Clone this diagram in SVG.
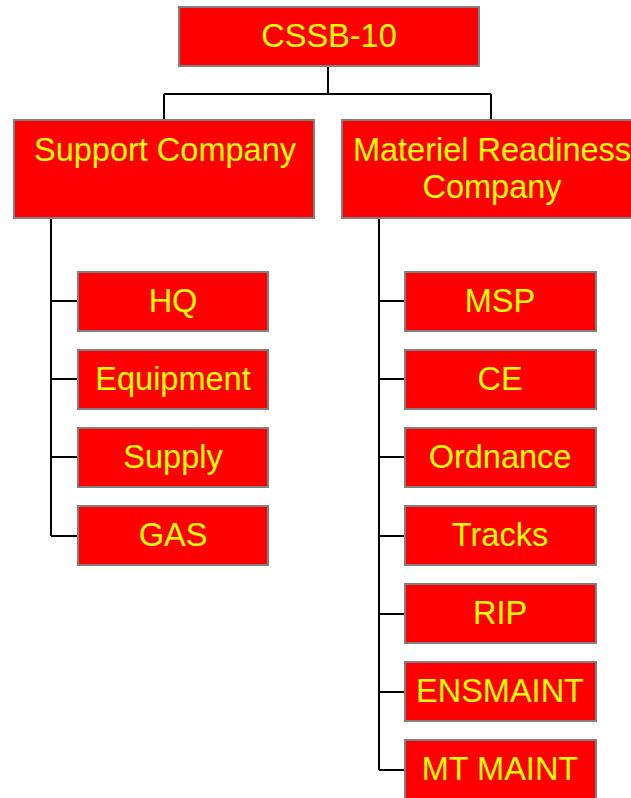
<svg xmlns="http://www.w3.org/2000/svg" width="631" height="798" viewBox="0 0 631 798">
<style>
.box{fill:#FF0000;stroke:#808080;stroke-width:2}
.t{font-family:"Liberation Sans",Arial,sans-serif;font-size:32.5px;fill:#FFFF00;text-anchor:middle}
.c{fill:none;stroke:#000;stroke-width:2}
</style>
<rect width="631" height="798" fill="#fff"/>
<g id="connectors">
<path class="c" d="M328,66V94M164,94H491M164,94V120M491,94V120"/>
<path class="c" d="M51,218V536M51,301H79M51,379H79M51,457H79M51,536H79"/>
<path class="c" d="M379,218V770M379,301H405M379,379H405M379,457H405M379,536H405M379,614H405M379,692H405M379,770H405"/>
</g>
<g id="cssb10"><rect class="box" x="179" y="7" width="300" height="59"/><text class="t" x="329" y="47">CSSB-10</text></g>
<g id="support"><rect class="box" x="14" y="120" width="300" height="98"/><text class="t" x="165" y="161">Support Company</text></g>
<g id="materiel"><rect class="box" x="342" y="120" width="300" height="98"/><text class="t" x="492" y="161">Materiel Readiness</text><text class="t" x="492" y="198">Company</text></g>
<g id="hq"><rect class="box" x="78" y="272" width="190" height="59"/><text class="t" x="173" y="312">HQ</text></g>
<g id="equipment"><rect class="box" x="78" y="350" width="190" height="59"/><text class="t" x="173" y="390">Equipment</text></g>
<g id="supply"><rect class="box" x="78" y="428" width="190" height="59"/><text class="t" x="173" y="468">Supply</text></g>
<g id="gas"><rect class="box" x="78" y="506" width="190" height="59"/><text class="t" x="173" y="546">GAS</text></g>
<g id="msp"><rect class="box" x="405" y="272" width="191" height="59"/><text class="t" x="500" y="312">MSP</text></g>
<g id="ce"><rect class="box" x="405" y="350" width="191" height="59"/><text class="t" x="500" y="390">CE</text></g>
<g id="ordnance"><rect class="box" x="405" y="428" width="191" height="59"/><text class="t" x="500" y="468">Ordnance</text></g>
<g id="tracks"><rect class="box" x="405" y="506" width="191" height="59"/><text class="t" x="500" y="546">Tracks</text></g>
<g id="rip"><rect class="box" x="405" y="584" width="191" height="59"/><text class="t" x="500" y="624">RIP</text></g>
<g id="ensmaint"><rect class="box" x="405" y="662" width="191" height="59"/><text class="t" x="500" y="702">ENSMAINT</text></g>
<g id="mtmaint"><rect class="box" x="405" y="740" width="191" height="59"/><text class="t" x="500" y="780">MT MAINT</text></g>
</svg>
